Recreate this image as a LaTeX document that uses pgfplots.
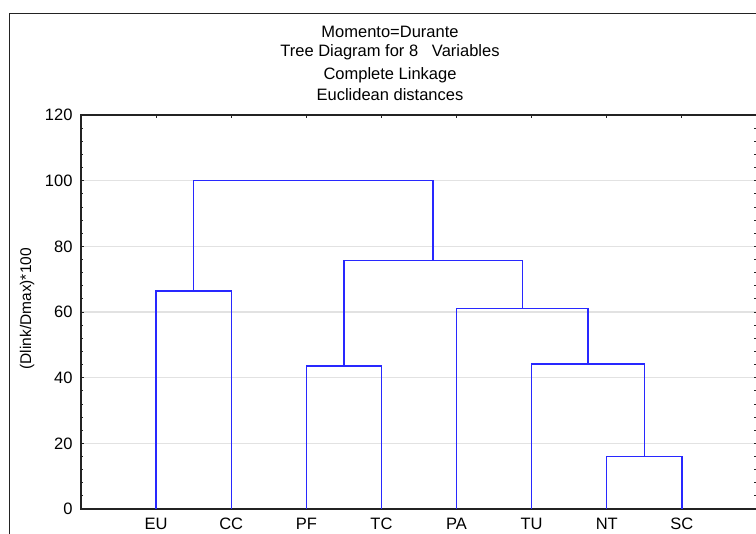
\documentclass[border=0pt]{standalone}
\usepackage{fontspec}
\setmainfont{Liberation Sans}
\usepackage{pgfplots}
\pgfplotsset{compat=1.18}
\definecolor{dendro}{RGB}{40,40,255}
\definecolor{gridgray}{RGB}{226,226,226}
\definecolor{axisdark}{RGB}{35,35,35}

\begin{document}
\begin{tikzpicture}[x=1pt,y=1pt]
\useasboundingbox (-81,-25) rectangle (675,509);
\clip (-81,-25) rectangle (675,509);
% graph window frame
\draw[line width=1.3pt, axisdark] (-71.5,-80) rectangle (760,495.5);
\begin{axis}[
  at={(0,0)}, anchor=south west,
  scale only axis, width=676pt, height=394pt,
  xmin=0, xmax=9, ymin=0, ymax=120,
  xtick={1,...,8},
  xticklabels={EU,CC,PF,TC,PA,TU,NT,SC},
  ytick={0,20,...,120},
  minor y tick num=4,
  tick align=inside,
  major tick length=3pt, minor tick length=2.5pt,
  tick style={axisdark, line width=0.8pt},
  ymajorgrids,
  grid style={gridgray, line width=1.2pt},
  axis line style={axisdark, line width=1.1pt},
  /pgf/number format/assume math mode=true,
  ticklabel style={font=\fontsize{16.5}{19}\selectfont},
  xticklabel style={text height=12pt, text depth=0pt, inner sep=0pt, yshift=-8pt},
  yticklabel style={xshift=-5pt},
  ylabel={(Dlink/Dmax)*100},
  every axis y label/.style={at={(rel axis cs:0,0.508)}, xshift=-54pt,
    rotate=90, anchor=center, font=\fontsize{15.5}{18}\selectfont},
  clip=false,
]
% NT + SC
\addplot[dendro, line width=1.4pt] coordinates {(7,0) (7,16.0) (8,16.0) (8,0)};
% TU + (NT,SC)
\addplot[dendro, line width=1.4pt] coordinates {(6,0) (6,44.2) (7.5,44.2) (7.5,16.0)};
% PA + (TU,NT,SC)
\addplot[dendro, line width=1.4pt] coordinates {(5,0) (5,61.0) (6.75,61.0) (6.75,44.2)};
% PF + TC
\addplot[dendro, line width=1.4pt] coordinates {(3,0) (3,43.6) (4,43.6) (4,0)};
% (PF,TC) + (PA,...)
\addplot[dendro, line width=1.4pt] coordinates {(3.5,43.6) (3.5,75.6) (5.875,75.6) (5.875,61.0)};
% EU + CC
\addplot[dendro, line width=1.4pt] coordinates {(1,0) (1,66.4) (2,66.4) (2,0)};
% root
\addplot[dendro, line width=1.4pt] coordinates {(1.5,66.4) (1.5,100) (4.6875,100) (4.6875,75.6)};
\end{axis}
% title block
\begin{scope}[every node/.style={font=\fontsize{16.5}{19}\selectfont, anchor=base, inner sep=0pt}]
\node at (309,471) {Momento=Durante};
\node at (309,452.3) {Tree Diagram for 8\ \ \ Variables};
\node at (309,429.7) {Complete Linkage};
\node at (309,408) {Euclidean distances};
\end{scope}
\end{tikzpicture}
\end{document}
